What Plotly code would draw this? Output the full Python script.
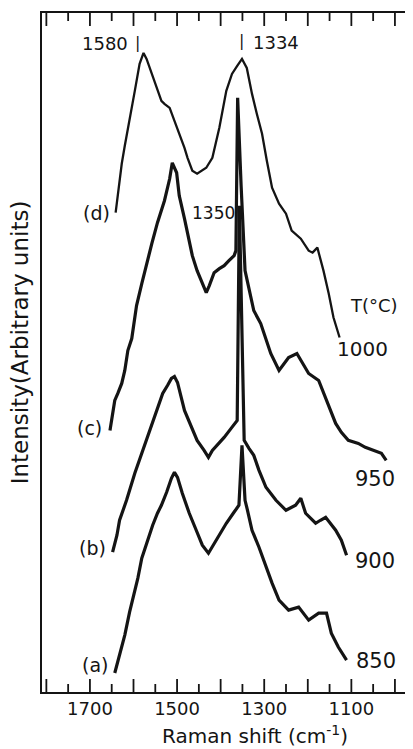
import plotly.graph_objects as go

# Raman shift (cm^-1) and intensity (arbitrary units)
d_shift = [1641, 1634, 1627, 1620, 1613, 1604, 1597, 1586, 1577, 1570, 1563, 1552, 1547, 1536, 1529,
           1517, 1506, 1495, 1483, 1476, 1465, 1454, 1442, 1433, 1419, 1403, 1387, 1374, 1362, 1351,
           1340, 1328, 1317, 1305, 1294, 1282, 1266, 1250, 1237, 1216, 1198, 1189, 1178, 1171, 1164,
           1152, 1141, 1127]
d_int = [480, 507, 529, 547, 565, 587, 602, 629, 640, 634, 625, 612, 605, 592, 589,
         585, 572, 560, 545, 535, 522, 519, 522, 525, 535, 565, 602, 619, 627, 634,
         625, 599, 579, 559, 532, 505, 489, 479, 462, 454, 442, 440, 445, 434, 422,
         399, 375, 355]

c_shift = [1654, 1643, 1636, 1627, 1620, 1613, 1604, 1593, 1581, 1570, 1558, 1545, 1529, 1517, 1511,
           1501, 1495, 1483, 1472, 1465, 1454, 1442, 1433, 1426, 1415, 1403, 1392, 1381, 1369, 1365,
           1361, 1353, 1344, 1340, 1330, 1324, 1308, 1296, 1285, 1266, 1244, 1225, 1210, 1198, 1175,
           1152, 1136, 1123, 1107, 1084, 1068, 1031, 1020]
c_int = [262, 292, 299, 309, 322, 342, 354, 387, 409, 429, 449, 470, 492, 514, 530,
         520, 497, 474, 452, 437, 422, 409, 400, 407, 420, 424, 427, 432, 437, 442,
         595, 507, 422, 414, 395, 382, 369, 352, 339, 322, 335, 339, 327, 319, 312,
         287, 269, 260, 252, 249, 245, 239, 232]

b_shift = [1648, 1638, 1632, 1616, 1597, 1579, 1563, 1545, 1533, 1522, 1513, 1506, 1499, 1483, 1467,
           1454, 1438, 1428, 1419, 1408, 1392, 1376, 1362, 1357, 1346, 1335, 1324, 1312, 1296, 1273,
           1250, 1228, 1216, 1205, 1182, 1171, 1159, 1136, 1123, 1111]
b_int = [140, 157, 172, 192, 219, 242, 262, 285, 299, 307, 314, 316, 310, 282, 265,
         252, 242, 235, 242, 247, 255, 264, 272, 487, 252, 244, 237, 222, 205, 192,
         182, 187, 194, 179, 169, 172, 175, 162, 152, 137]

a_shift = [1643, 1632, 1620, 1609, 1602, 1590, 1581, 1570, 1556, 1545, 1536, 1524, 1513, 1506, 1499,
           1488, 1472, 1456, 1442, 1428, 1417, 1403, 1387, 1371, 1358, 1351, 1344, 1340, 1328, 1312,
           1296, 1282, 1266, 1244, 1221, 1198, 1175, 1157, 1146, 1130, 1111]
a_int = [19, 37, 57, 80, 92, 114, 134, 149, 167, 179, 187, 200, 214, 220, 215,
         199, 179, 162, 147, 139, 147, 157, 169, 179, 187, 247, 192, 185, 162, 145,
         125, 109, 92, 82, 85, 72, 79, 79, 59, 45, 32]

label_ticks = [1700, 1500, 1300, 1100]
major_ticks = [1800, 1700, 1600, 1500, 1400, 1300, 1200, 1100, 1000]
minor_ticks = [1750, 1650, 1550, 1450, 1350, 1250, 1150, 1050]

INK = "#141414"
FONT = "DejaVu Sans"
Y_TOP = 680

fig = go.Figure()
fig.add_trace(go.Scatter(x=d_shift, y=d_int, mode="lines", line=dict(color=INK, width=2.3),
                         showlegend=False, hoverinfo="skip"))
for xs, ys in [(c_shift, c_int), (b_shift, b_int), (a_shift, a_int)]:
    fig.add_trace(go.Scatter(x=xs, y=ys, mode="lines", line=dict(color=INK, width=3.2),
                             showlegend=False, hoverinfo="skip"))

# inward tick marks on the bottom and top frame, built from the tick value lists
tx, ty = [], []
for vals, ln in [(major_ticks, 13), (minor_ticks, 8)]:
    for v in vals:
        tx += [v, v, None, v, v, None]
        ty += [0, ln, None, Y_TOP, Y_TOP - ln, None]
fig.add_trace(go.Scatter(x=tx, y=ty, mode="lines", line=dict(color=INK, width=1.8),
                         showlegend=False, hoverinfo="skip", cliponaxis=False, connectgaps=False))

ann = []
def txt(x, y, s, size, xanchor="center"):
    ann.append(dict(x=x, y=y, xref="x", yref="y", text=s, showarrow=False,
                    font=dict(family=FONT, size=size, color=INK), xanchor=xanchor, yanchor="middle"))

txt(1686, 480, "(d)", 19)
txt(1700, 264, "(c)", 19)
txt(1695, 144, "(b)", 19)
txt(1689, 27, "(a)", 19)
txt(1075, 344, "1000", 20)
txt(1045, 213, "950", 21)
txt(1045, 131, "900", 21)
txt(1043, 31, "850", 21)
txt(1047, 387, "T(°C)", 18)
txt(1666, 649, "1580", 18)
txt(1590, 650, "|", 16)
txt(1353, 652, "|", 16)
txt(1273, 650, "1334", 18)
txt(1417, 480, "1350", 17)

ann.append(dict(x=0.582, y=-0.063, xref="paper", yref="paper", showarrow=False,
                text="Raman shift (cm<sup>-1</sup>)", font=dict(family=FONT, size=20, color=INK),
                xanchor="center", yanchor="middle"))
ann.append(dict(x=-0.06, y=0.515, xref="paper", yref="paper", showarrow=False, textangle=-90,
                text="Intensity(Arbitrary units)", font=dict(family=FONT, size=23, color=INK),
                xanchor="center", yanchor="middle"))

# the page body has an 8px margin, so the figure is 8px smaller and its top/left margins 8px less
fig.update_layout(
    width=405, height=741,
    margin=dict(l=34, r=3, t=4, b=57),
    paper_bgcolor="white", plot_bgcolor="white",
    annotations=ann,
    xaxis=dict(range=[1810, 970], tickmode="array", tickvals=label_ticks,
               ticktext=[str(v) for v in label_ticks], ticks="",
               showline=True, linewidth=1.6, linecolor=INK, mirror=True,
               showgrid=False, zeroline=False,
               tickfont=dict(family=FONT, size=18, color=INK)),
    yaxis=dict(range=[0, Y_TOP], showticklabels=False, ticks="", showgrid=False, zeroline=False,
               showline=True, linewidth=1.6, linecolor=INK, mirror=True),
)

fig.write_html("out.html")
